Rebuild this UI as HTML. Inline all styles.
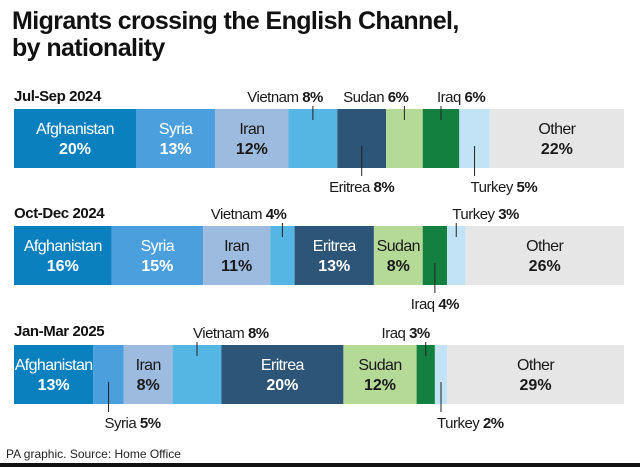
<!DOCTYPE html>
<html><head><meta charset="utf-8"><style>
body{margin:0;background:#fff;width:640px;height:467px;overflow:hidden;font-family:"Liberation Sans",sans-serif}
</style></head><body>
<svg id="c" width="640" height="467" style="position:absolute;left:0;top:0">
<text x="12" y="29" font-size="25" font-weight="bold" fill="#111" letter-spacing="-0.6">Migrants crossing the English Channel,</text>
<text x="12" y="56" font-size="25" font-weight="bold" fill="#111" letter-spacing="-0.6">by nationality</text>
<text x="6" y="458" font-size="12" fill="#222">PA graphic. Source: Home Office</text>
<rect x="0" y="463" width="640" height="4" fill="#111"/>
</svg>
<script>
const categories=["Afghanistan","Syria","Iran","Vietnam","Eritrea","Sudan","Iraq","Turkey","Other"];
const periods=["Jul-Sep 2024","Oct-Dec 2024","Jan-Mar 2025"];
const values0=[20,13,12,8,8,6,6,5,22];
const values1=[16,15,11,4,13,8,4,3,26];
const values2=[13,5,8,8,20,12,3,2,29];
const placement0=["in","in","in","up","down","up","up","down","in"];
const placement1=["in","in","in","up","in","in","down","up","in"];
const placement2=["in","down","in","up","in","in","up","down","in"];
const anchor0=["","","","endR","middle","end","start","start",""];
const anchor1=["","","","end","","","middle","start",""];
const anchor2=["","start","","start","","","end","start",""];
const series=[values0,values1,values2];
const placements=[placement0,placement1,placement2];
const anchors=[anchor0,anchor1,anchor2];
const colors=["#0a80bf","#4a9fdc","#9dbbde","#55b6e3","#2c5577","#b5da97","#138040","#c2e3f6","#e6e6e6"];
const txt=["#fff","#fff","#1a1a1a","#1a1a1a","#fff","#1a1a1a","#fff","#1a1a1a","#1a1a1a"];
const svg=document.getElementById('c');const NS="http://www.w3.org/2000/svg";
const X0=14,W=610,barTops=[109,226,345],BH=59,headY=[101,218,336];
const xs=v=>X0+v/100*W;
const shift={middle:0,end:4,start:-4,endR:10};
function mk(tag,a,p){const e=document.createElementNS(NS,tag);for(const k in a)e.setAttribute(k,a[k]);(p||svg).appendChild(e);return e;}
function lab(x,y,name,val,anchor,nm){const t=mk('text',{x:x+shift[anchor],y:y,'font-size':15,fill:'#1a1a1a','text-anchor':anchor==='endR'?'end':anchor,'letter-spacing':'-0.5'});


const a=mk('tspan',{},t);a.textContent=name+' ';const b=mk('tspan',{'font-weight':'bold'},t);b.textContent=val+'%';}
series.forEach((vals,i)=>{
 const h=mk('text',{x:14,y:headY[i],'font-size':15,'font-weight':'bold',fill:'#111','letter-spacing':'-0.4'});h.textContent=periods[i];
 
 
 let cum=0;const top=barTops[i];
 vals.forEach((v,j)=>{
  const x1=xs(cum),x2=xs(cum+v);cum+=v;
  const r=mk('rect',{x:x1,y:top,width:x2-x1,height:BH,fill:colors[j]});
  
  
  const cx=(x1+x2)/2,p=placements[i][j],an=anchors[i][j]||'middle';
  if(p==='in'){
   const t1=mk('text',{x:cx,y:top+25,'font-size':16,fill:txt[j],'text-anchor':'middle','letter-spacing':'-0.6'});t1.textContent=categories[j];
   
   
   const t2=mk('text',{x:cx,y:top+45,'font-size':16,'font-weight':'bold',fill:txt[j],'text-anchor':'middle'});t2.textContent=v+'%';
   
   
  }else if(p==='up'){
   mk('line',{x1:cx,y1:top-3,x2:cx,y2:top+11,stroke:'#222','stroke-width':1});
   lab(cx,top-7,categories[j],v,an,'callout-label');
  }else{
   mk('line',{x1:cx,y1:top+BH-22,x2:cx,y2:top+BH+8,stroke:'#222','stroke-width':1});
   lab(cx,top+BH+24,categories[j],v,an,'callout-label');
  }
 });
});
</script>
</body></html>
